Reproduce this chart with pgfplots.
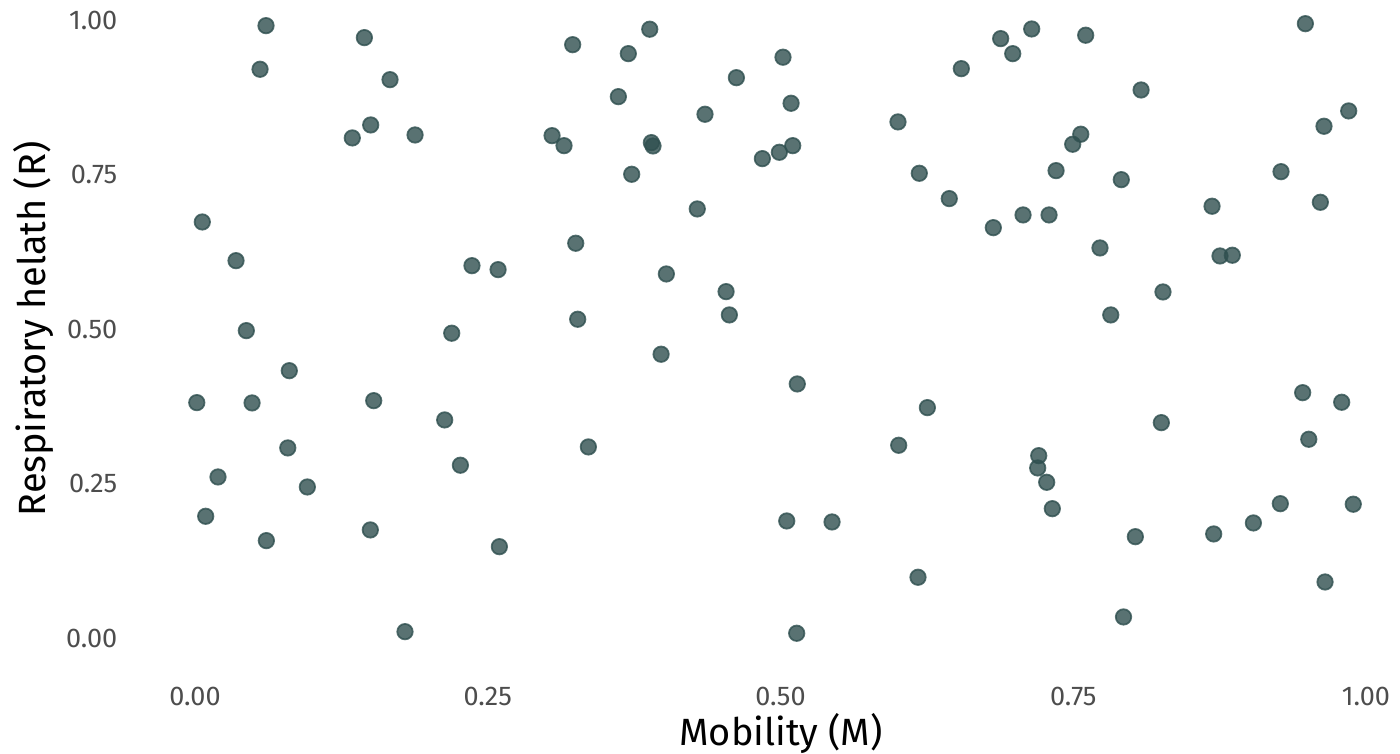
\documentclass[border=0pt]{standalone}
\usepackage{fontspec}
\setmainfont{Fira Sans}
\usepackage{pgfplots}
\usepackage{pgfplotstable}
\pgfplotsset{compat=1.18}
\definecolor{pt}{HTML}{2F4F4F}
\definecolor{tickgray}{HTML}{4D4D4D}
\pgfplotstableread{
x y
0.0606 0.9916
0.0555 0.9210
0.1446 0.9722
0.1665 0.9042
0.1343 0.8099
0.1500 0.8309
0.1879 0.8147
0.0062 0.6739
0.0350 0.6113
0.0438 0.4981
0.0015 0.3816
0.0487 0.3811
0.0805 0.4333
0.0196 0.2613
0.0091 0.1977
0.0609 0.1583
0.0792 0.3083
0.0959 0.2451
0.1526 0.3848
0.1497 0.1756
0.1793 0.0110
0.2132 0.3536
0.2192 0.4939
0.2365 0.6032
0.2266 0.2803
0.2588 0.5968
0.2599 0.1485
0.3225 0.9608
0.3883 0.9858
0.3700 0.9463
0.3615 0.8767
0.3049 0.8136
0.3151 0.7974
0.3897 0.8023
0.3911 0.7969
0.3729 0.7511
0.3251 0.6395
0.3268 0.5165
0.3359 0.3099
0.4025 0.5898
0.3980 0.4599
0.4289 0.6950
0.4355 0.8482
0.4623 0.9074
0.4535 0.5612
0.4563 0.5235
0.5021 0.9405
0.5090 0.8660
0.4845 0.7764
0.4990 0.7867
0.5104 0.7974
0.5143 0.4118
0.5053 0.1901
0.5440 0.1885
0.5138 0.0084
0.6003 0.8358
0.6185 0.7527
0.6441 0.7117
0.6544 0.9220
0.6880 0.9706
0.6983 0.9463
0.7145 0.9862
0.7606 0.9761
0.8079 0.8875
0.7564 0.8159
0.7495 0.7997
0.7353 0.7570
0.7910 0.7424
0.7071 0.6853
0.7293 0.6853
0.6817 0.6647
0.7728 0.6319
0.7820 0.5235
0.8266 0.5607
0.6009 0.3126
0.6254 0.3735
0.6174 0.0990
0.7205 0.2958
0.7196 0.2759
0.7273 0.2527
0.7321 0.2100
0.8252 0.3492
0.8030 0.1647
0.7929 0.0348
0.9482 0.9948
0.9852 0.8536
0.9641 0.8288
0.9274 0.7553
0.8685 0.6994
0.9610 0.7058
0.8753 0.6189
0.8858 0.6201
0.9459 0.3977
0.9792 0.3822
0.9511 0.3223
0.8699 0.1691
0.9038 0.1869
0.9268 0.2181
0.9891 0.2172
0.9650 0.0914
}\pts
\begin{document}
\begin{tikzpicture}
\path[use as bounding box] (-14.82mm,-9.7mm) rectangle (125.18mm,65.7mm);
\begin{axis}[
  at={(0,0)}, anchor=south west,
  scale only axis, width=124.71mm, height=64.89mm,
  xmin=-0.04, xmax=1.025, ymin=-0.03, ymax=1.02,
  axis line style={draw=none},
  major tick length=0pt,
  xtick={0,0.25,0.5,0.75,1}, xticklabels={0.00,0.25,0.50,0.75,1.00},
  ytick={0,0.25,0.5,0.75,1}, yticklabels={0.00,0.25,0.50,0.75,1.00},
  ticklabel style={font=\fontsize{7.7}{9}\selectfont, text=tickgray},
  xticklabel style={anchor=base, yshift=-4.9mm},
  yticklabel style={anchor=east, inner sep=0pt, xshift=-3.02mm},
  xlabel={Mobility (M)}, ylabel={Respiratory helath (R)},
  label style={font=\fontsize{10.8}{13}\selectfont, text=black},
  xlabel style={at={(axis description cs:0.5074,-0.137)}, anchor=base},
  ylabel style={at={(axis description cs:-0.092,0.5055)}, anchor=center},
]
\addplot[only marks, mark=*, mark size=2.2pt, fill opacity=0.8, draw opacity=0.8,
  mark options={fill=pt, draw=pt, line width=0.5pt}] table[x=x, y=y] {\pts};
\end{axis}
\end{tikzpicture}
\end{document}
